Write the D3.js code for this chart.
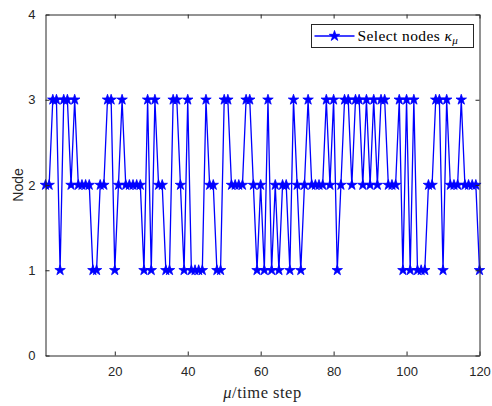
<!DOCTYPE html>
<html>
<head>
<meta charset="utf-8">
<script src="https://cdn.jsdelivr.net/npm/d3@7"></script>
<style>
  html, body { margin: 0; padding: 0; background: #fff; }
  svg { display: block; }
</style>
</head>
<body>
<div id="chart"></div>
<script>
// ---- data ----
const steps = d3.range(1, 121);
const nodeValues = [
  2,2,3,3,1,3,3,2,3,2,
  2,2,2,1,1,2,2,3,3,1,
  2,3,2,2,2,2,2,1,3,1,
  3,2,2,1,1,3,3,2,1,3,
  1,1,1,1,3,2,2,1,1,3,
  3,2,2,2,2,3,3,2,1,2,
  1,3,1,2,1,2,2,1,3,2,
  1,2,3,2,2,2,2,3,2,3,
  1,2,3,3,2,3,3,2,3,2,
  3,2,3,3,2,2,2,3,1,3,
  1,3,1,1,1,2,2,3,3,1,
  3,2,2,2,3,2,2,2,2,1
];
const xTicks = [20, 40, 60, 80, 100, 120];
const yTicks = [0, 1, 2, 3, 4];
const seriesName = "Select nodes";

// ---- layout ----
const W = 492, H = 406;
const L = 45.5, R = 479.5, T = 14.5, B = 355.5;
const axisColor = "#262626";
const lineColor = "#0000ff";

const svg = d3.select("#chart").append("svg")
  .attr("width", W).attr("height", H);

const x = d3.scaleLinear().domain([1, 120]).range([L, R]);
const y = d3.scaleLinear().domain([0, 4]).range([B, T]);

svg.append("rect").attr("x", L).attr("y", T).attr("width", R - L).attr("height", B - T)
  .attr("fill", "#fff");

// line
const line = d3.line().x((d, i) => x(steps[i])).y(d => y(d));
svg.append("path").datum(nodeValues)
  .attr("d", line)
  .attr("fill", "none")
  .attr("stroke", lineColor)
  .attr("stroke-width", 1.3)
  .attr("stroke-linejoin", "miter");

// markers
const star = d3.symbol().type(d3.symbolStar).size(34);
svg.append("g").selectAll("path")
  .data(nodeValues)
  .join("path")
  .attr("d", star)
  .attr("transform", (d, i) => `translate(${x(steps[i])},${y(d)})`)
  .attr("fill", lineColor)
  .attr("stroke", lineColor)
  .attr("stroke-width", 0.8);

// axes (ticks inward, mirrored)
const tickLen = 4;
const fontTick = "13px 'Liberation Sans', Arial, Helvetica, sans-serif";
const fmt = d3.format("d");

const gx = svg.append("g").attr("transform", `translate(0,${B})`)
  .call(d3.axisBottom(x).tickValues(xTicks).tickFormat(fmt).tickSize(-tickLen).tickPadding(11).tickSizeOuter(0));
const gxTop = svg.append("g").attr("transform", `translate(0,${T})`)
  .call(d3.axisTop(x).tickValues(xTicks).tickSize(-tickLen).tickFormat("").tickSizeOuter(0));
const gy = svg.append("g").attr("transform", `translate(${L},0)`)
  .call(d3.axisLeft(y).tickValues(yTicks).tickFormat(fmt).tickSize(-tickLen).tickPadding(10).tickSizeOuter(0));
const gyRight = svg.append("g").attr("transform", `translate(${R},0)`)
  .call(d3.axisRight(y).tickValues(yTicks).tickSize(-tickLen).tickFormat("").tickSizeOuter(0));

[gx, gxTop, gy, gyRight].forEach(g => {
  g.select(".domain").attr("stroke", axisColor).attr("stroke-width", 1);
  g.selectAll(".tick line").attr("stroke", axisColor).attr("stroke-width", 1);
  g.selectAll(".tick text").attr("fill", axisColor).style("font", fontTick);
});

// axis labels
svg.append("text")
  .attr("x", (L + R) / 2).attr("y", 398)
  .attr("text-anchor", "middle")
  .attr("fill", axisColor)
  .attr("letter-spacing", 0.5)
  .style("font", "16.5px 'Liberation Serif', 'Times New Roman', serif")
  .html('<tspan font-style="italic">μ</tspan>/time step');

svg.append("text")
  .attr("transform", `translate(23,${(T + B) / 2}) rotate(-90)`)
  .attr("text-anchor", "middle")
  .attr("fill", axisColor)
  .style("font", "14px 'Liberation Sans', Arial, sans-serif")
  .text("Node");

// legend
const lg = svg.append("g");
const lx0 = 311.5, ly0 = 24.5, lw = 162, lh = 23;
lg.append("rect").attr("x", lx0).attr("y", ly0).attr("width", lw).attr("height", lh)
  .attr("fill", "#fff").attr("stroke", axisColor).attr("stroke-width", 1);
lg.append("line").attr("x1", lx0 + 3).attr("x2", lx0 + 43)
  .attr("y1", ly0 + lh / 2).attr("y2", ly0 + lh / 2)
  .attr("stroke", lineColor).attr("stroke-width", 1.3);
lg.append("path").attr("d", star)
  .attr("transform", `translate(${lx0 + 23},${ly0 + lh / 2})`)
  .attr("fill", lineColor).attr("stroke", lineColor).attr("stroke-width", 0.8);
const lt = lg.append("text")
  .attr("x", lx0 + 46).attr("y", ly0 + lh / 2 + 5)
  .attr("fill", "#000")
  .attr("letter-spacing", 0.4)
  .style("font", "15.5px 'Liberation Serif', 'Times New Roman', serif");
lt.append("tspan").text(seriesName + " ");
lt.append("tspan").attr("font-style", "italic").text("κ");
lt.append("tspan").attr("font-style", "italic").attr("font-size", "11px").attr("dy", 3).text("μ");
</script>
</body>
</html>
